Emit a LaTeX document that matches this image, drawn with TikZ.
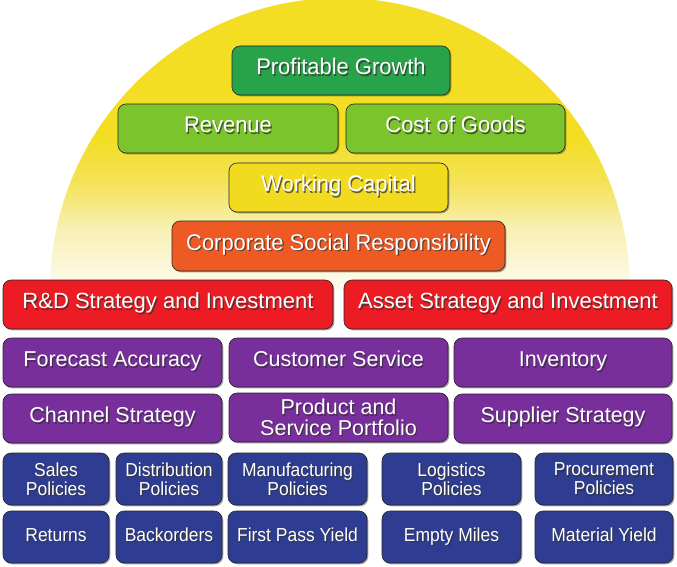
\documentclass[tikz,border=0pt]{standalone}
\usepackage{fontspec}
\setmainfont{Liberation Sans}
\newfontfamily\narrowsans{Liberation Sans}[FakeStretch=0.93]
\newfontfamily\midsans{Liberation Sans}[FakeStretch=0.97]
\usetikzlibrary{shadows}
\definecolor{sunTop}{HTML}{F3DE24}
\definecolor{sunMid}{HTML}{F4E35C}
\definecolor{sunPale}{HTML}{F8EFB0}
\definecolor{sunLow}{HTML}{FDF9E6}
\definecolor{cDeepGreen}{HTML}{29A34A}
\definecolor{cLightGreen}{HTML}{7CC42B}
\definecolor{cYellow}{HTML}{F2DB1E}
\definecolor{cOrange}{HTML}{EE5A24}
\definecolor{cRed}{HTML}{ED1C24}
\definecolor{cPurple}{HTML}{782F9C}
\definecolor{cBlue}{HTML}{2E3D92}
\pgfdeclareverticalshading{sunshade}{100bp}{color(0bp)=(sunLow); color(27bp)=(sunLow); color(36bp)=(sunPale); color(43bp)=(sunMid); color(51bp)=(sunTop); color(100bp)=(sunTop)}
\tikzset{
  boxshape/.style={draw=black!85, line width=0.6pt, rounded corners=8pt, inner sep=0pt,
    drop shadow={shadow xshift=1.3pt, shadow yshift=-1.3pt, fill=black, opacity=0.35}},
  bodyfont/.style={font=\fontsize{22}{20}\selectfont},
  oneline/.style={text height=0.85em, text depth=0pt},
  multiline/.style={},
  boxtxt/.style={text=white, align=center, inner sep=0pt, bodyfont},
  boxtxtsh/.style={text=black!80, opacity=0.75, align=center, inner sep=0pt, bodyfont}
}
\newcommand\bx[8][oneline]{%
  \node[boxshape, fill=#7, minimum width=#5pt, minimum height=#6pt] (#2) at (#3,#4) {};
  \node[boxtxtsh, #1] (#2-s) at ([shift={(1.3pt,-1.3pt)}]#2.center) {#8};
  \node[boxtxt, #1] (#2-t) at (#2.center) {#8};
}
\begin{document}
\begin{tikzpicture}[x=1pt,y=-1pt]
\useasboundingbox (0,0) rectangle (677,567);
% sun background
\shade[shading=sunshade] (50,290) arc[start angle=180, end angle=360, x radius=290, y radius=292] -- cycle;
% top section
\begin{scope}[bodyfont/.style={font=\midsans\fontsize{22.6}{20}\selectfont}]
\bx{pg}{341}{70.5}{218}{49}{cDeepGreen}{Profitable Growth}
\bx{rev}{228}{128.5}{220}{49}{cLightGreen}{Revenue}
\bx{cog}{455.5}{128.5}{219}{49}{cLightGreen}{Cost of Goods}
\bx{wc}{338.5}{187.5}{219}{49}{cYellow}{Working Capital}
\bx{csr}{338.5}{246}{333}{50}{cOrange}{Corporate Social Responsibility}
\end{scope}
\bx{rd}{168}{304.5}{330}{49}{cRed}{R\&D Strategy and Investment}
\bx{asset}{508}{304.5}{328}{49}{cRed}{Asset Strategy and Investment}
% purple rows
\begin{scope}[bodyfont/.style={font=\fontsize{21.5}{20.5}\selectfont}]
\bx{fa}{112.5}{362.5}{219}{49}{cPurple}{Forecast Accuracy}
\bx{cs}{338.5}{362.5}{219}{49}{cPurple}{Customer Service}
\bx{inv}{563}{362.5}{218}{49}{cPurple}{Inventory}
\bx{ch}{112.5}{418.5}{219}{49}{cPurple}{Channel Strategy}
\bx[multiline]{psp}{338.5}{417.5}{219}{49}{cPurple}{Product and\\Service Portfolio}
\bx{sup}{563}{418.5}{218}{49}{cPurple}{Supplier Strategy}
\end{scope}
% blue rows
\begin{scope}[bodyfont/.style={font=\narrowsans\fontsize{18.8}{19}\selectfont}]
\bx[multiline]{sales}{56}{479}{106}{52}{cBlue}{Sales\\Policies}
\bx[multiline]{dist}{169}{479}{106}{52}{cBlue}{Distribution\\Policies}
\bx[multiline]{manu}{297.5}{479}{139}{52}{cBlue}{Manufacturing\\Policies}
\bx[multiline]{logi}{451.5}{479}{139}{52}{cBlue}{Logistics\\Policies}
\bx[multiline]{proc}{604}{479}{138}{52}{cBlue}{Procurement\\Policies}
\bx{ret}{56}{537}{106}{52}{cBlue}{Returns}
\bx{back}{169}{537}{106}{52}{cBlue}{Backorders}
\bx{fpy}{297.5}{537}{139}{52}{cBlue}{First Pass Yield}
\bx{em}{451.5}{537}{139}{52}{cBlue}{Empty Miles}
\bx{my}{604}{537}{138}{52}{cBlue}{Material Yield}
\end{scope}
\end{tikzpicture}
\end{document}
